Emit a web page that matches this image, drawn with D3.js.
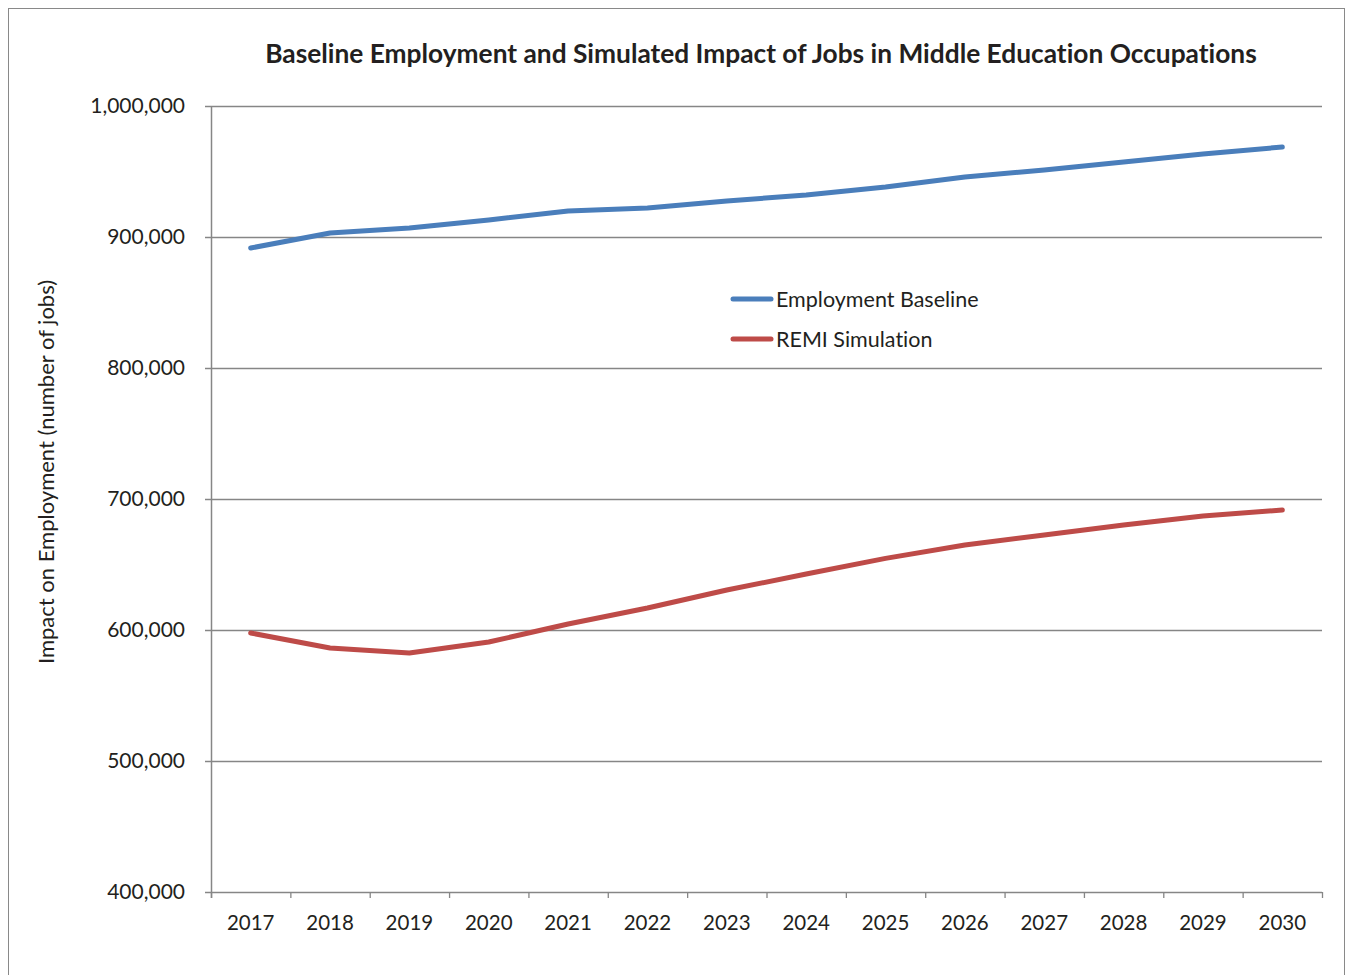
<!DOCTYPE html>
<html><head><meta charset="utf-8">
<script src="https://cdn.jsdelivr.net/npm/d3@7"></script>
<style>body{margin:0;background:#fff}svg{display:block}text{font-family:Lato,"Open Sans",sans-serif;fill:#231f20;font-variant-ligatures:none}</style>
</head><body>
<svg id="c" width="1346" height="975"></svg>
<script>
const years = ["2017","2018","2019","2020","2021","2022","2023","2024","2025","2026","2027","2028","2029","2030"];
const baseline = [891600,903100,906900,913000,919800,922100,927500,932100,938200,945800,951100,957300,963400,968700];
const remi = [597700,586300,582400,590800,604600,616800,630500,642700,654700,664900,672500,680200,687000,691600];
const yTicks = [400000,500000,600000,700000,800000,900000,1000000];
const seriesNames = ["Employment Baseline","REMI Simulation"];
const colors = ["#4A7EBB","#BE4B48"];

const svg = d3.select("#c");
svg.append("rect").attr("x",8.5).attr("y",8.5).attr("width",1336).attr("height",975).attr("fill","none").attr("stroke","#898989");
const L=211,R=1322,T=106,B=892;
const x = d3.scaleBand().domain(years).range([L,R]);
const y = d3.scaleLinear().domain([400000,1000000]).range([B,T]);

svg.append("g").selectAll("line").data(yTicks).join("line")
  .attr("x1",L-6).attr("x2",R).attr("y1",d=>y(d)+0.5).attr("y2",d=>y(d)+0.5)
  .attr("stroke","#868686").attr("stroke-width",1.3);
svg.append("line").attr("x1",L+0.5).attr("x2",L+0.5).attr("y1",T).attr("y2",B+6).attr("stroke","#868686").attr("stroke-width",1.5);
const xt = years.map((d,i)=>L+i*x.step()).concat([R]);
svg.append("g").selectAll("line").data(xt).join("line")
  .attr("x1",d=>d+0.5).attr("x2",d=>d+0.5).attr("y1",B).attr("y2",B+6).attr("stroke","#868686").attr("stroke-width",1.3);
svg.append("g").selectAll("text").data(yTicks).join("text")
  .attr("x",185).attr("y",d=>y(d)).attr("dy","0.35em").attr("text-anchor","end")
  .style("font-size","21px").text(d3.format(",")); 
svg.append("g").selectAll("text").data(years).join("text")
  .attr("x",d=>x(d)+x.bandwidth()/2).attr("y",923).attr("dy","0.35em").attr("text-anchor","middle")
  .style("font-size","20.5px").text(d=>d);
svg.append("text").attr("transform","translate(54,472) rotate(-90)").attr("text-anchor","middle")
  .style("font-size","22px").text("Impact on Employment (number of jobs)");
svg.append("text").attr("x",761).attr("y",54).attr("dy","0.35em").attr("text-anchor","middle")
  .style("font-size","26.3px").style("font-weight","bold").text("Baseline Employment and Simulated Impact of Jobs in Middle Education Occupations");

const line = d3.line().x((d,i)=>x(years[i])+x.bandwidth()/2).y(d=>y(d));
[baseline,remi].forEach((s,k)=>{
  svg.append("path").attr("d",line(s)).attr("fill","none").attr("stroke",colors[k])
    .attr("stroke-width",5).attr("stroke-linecap","round").attr("stroke-linejoin","round");
});
seriesNames.forEach((n,k)=>{
  const ly = 299+k*40;
  svg.append("line").attr("x1",733).attr("x2",771).attr("y1",ly).attr("y2",ly).attr("stroke",colors[k]).attr("stroke-width",5).attr("stroke-linecap","round");
  svg.append("text").attr("x",776).attr("y",ly).attr("dy","0.35em").style("font-size","21.5px").text(n);
});
</script>
</body></html>
